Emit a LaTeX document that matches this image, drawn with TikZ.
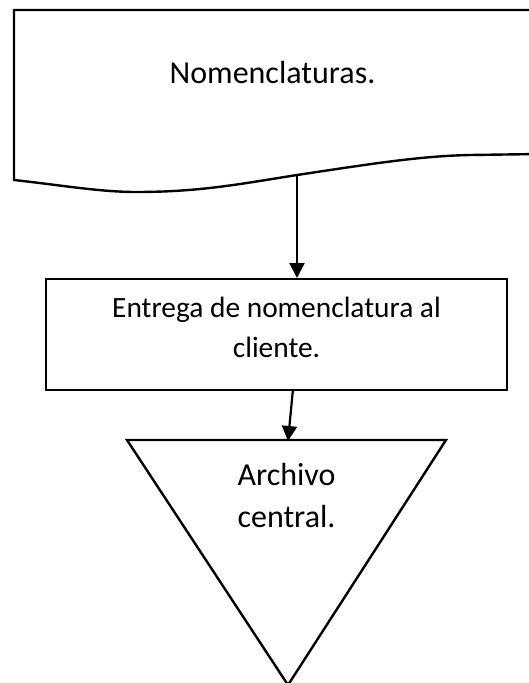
\documentclass[tikz,border=0pt]{standalone}
\usepackage{fontspec}
\setmainfont{Carlito}
\usetikzlibrary{arrows.meta}
\begin{document}
\begin{tikzpicture}[x=1pt,y=-1pt,
  shapeline/.style={draw=black,line width=2.4pt,line join=miter},
  conn/.style={draw=black,line width=2.2pt,-{Triangle[width=15pt,length=15pt]}},
  lbl/.style={font=\fontsize{29.4}{40}\selectfont,anchor=base,inner sep=0pt,text=black},
  biglbl/.style={lbl,font=\fontsize{32}{42}\selectfont}]
\useasboundingbox (0,0) rectangle (529,683);
\clip (0,0) rectangle (529,683);
% document shape
\draw[shapeline] (540,10) -- (14,10) -- (14,180)
  .. controls (60,185) and (100,192) .. (136,192)
  .. controls (200,192) and (240,184) .. (297,175)
  .. controls (370,164) and (420,156) .. (470,155) -- (540,154);
\coordinate (docb) at (297,175);
\node[biglbl] (doct) at (272.5,83) {Nomenclaturas.};
% process box
\node[shapeline,minimum width=461pt,minimum height=111pt,inner sep=0pt] (proc) at (276.5,334.5) {};
\node[lbl] (proct1) at (276.5,317) {Entrega de nomenclatura al};
\node[lbl] (proct2) at (276.5,357) {cliente.};
% triangle (storage)
\coordinate (tl) at (127,440);
\coordinate (tr) at (446,440);
\coordinate (tb) at (288,685);
\draw[shapeline] (tl) -- (tr) -- (tb) -- cycle;
\node[biglbl] (arch1) at (286.5,485) {Archivo};
\node[biglbl] (arch2) at (286.5,527) {central.};
% connectors
\coordinate (p1) at (297,278);
\draw[conn] (docb) -- (p1);
\coordinate (p2s) at (293,389);
\coordinate (p2e) at (288,441);
\draw[conn] (p2s) -- (p2e);
\end{tikzpicture}
\end{document}
